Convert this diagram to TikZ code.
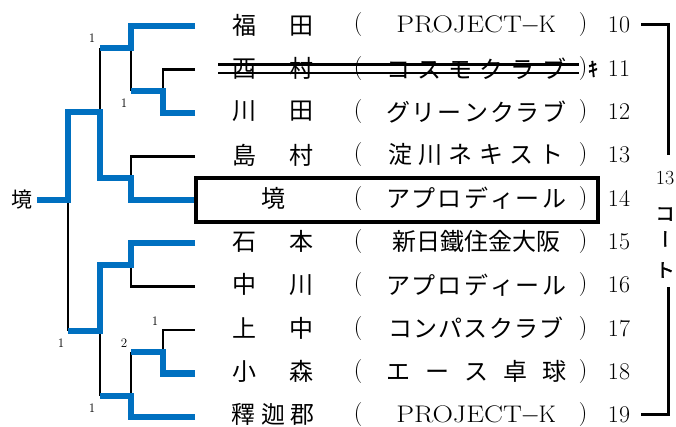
\documentclass[tikz,border=0pt]{standalone}
\usepackage{fontspec}
\usepackage{graphicx}
\newfontfamily\jp{Noto Sans CJK JP}
\newfontfamily\jpb[FakeBold=2]{Noto Sans CJK JP}
\definecolor{winblue}{RGB}{0,112,192}
% spread the characters of #2 over a box #1 wide
\newcommand\spaced[2]{\makebox[#1][s]{\spacedloop#2\relax}}
\def\spacedloop#1#2{#1\ifx\relax#2\else\hfil\expandafter\spacedloop\fi#2}
\newcommand\projk{{\rmfamily\scalebox{1.18}[1]{PROJECT}$\mkern-1mu-\mkern-1mu$K}}
\begin{document}
\begin{tikzpicture}[x=1pt,y=-1pt,
  win/.style={winblue,line width=6.5pt},
  lose/.style={line width=2.5pt},
  row/.style={inner sep=0pt,font=\jp\fontsize{24}{24}\selectfont},
  num/.style={inner sep=0pt,font=\fontsize{24}{24}\selectfont},
  score/.style={inner sep=0pt,font=\fontsize{13}{13}\selectfont},
  court/.style={inner sep=0pt,font=\jpb\fontsize{19}{19}\selectfont}]
\useasboundingbox (0,0) rectangle (676,427);
\foreach \i/\nm/\tm in {
  1/{\spaced{81pt}{福田}}/{\projk},
  2/{\spaced{81pt}{西村}}/{\spaced{180pt}{コスモクラブ}},
  3/{\spaced{81pt}{川田}}/{\spaced{180pt}{グリーンクラブ}},
  4/{\spaced{81pt}{島村}}/{\spaced{176pt}{淀川ネキスト}},
  5/{境}/{\spaced{180pt}{アプロディール}},
  6/{\spaced{81pt}{石本}}/{\spaced{168pt}{新日鐵住金大阪}},
  7/{\spaced{81pt}{中川}}/{\spaced{180pt}{アプロディール}},
  8/{\spaced{81pt}{上中}}/{\spaced{176pt}{コンパスクラブ}},
  9/{\spaced{81pt}{小森}}/{\spaced{180pt}{エース卓球}},
  10/{\spaced{83pt}{釋迦郡}}/{\projk}}{
  \pgfmathsetmacro\y{25+(\i-1)*43.3}
  \pgfmathsetmacro\ly{26+(\i-1)*43.45}
  \coordinate (e\i) at (195,\ly);
  \node[row] (n\i) at (273,\y) {\nm};
  \node[num] (l\i) at (358,\y) {(};
  \node[row] (t\i) at (476,\y) {\tm};
  \node[num] (r\i) at (583,\y) {)};
  \node[num] (k\i) at (619,\y) {\the\numexpr9+\i\relax};
}
% losers
\draw[lose] (e2) -| (163,91);
\draw[lose] (131,48) -- (131,91);
\draw[lose] (e4) -| (131,178);
\draw[lose] (100,48) -- (100,112);
\draw[lose] (68,200) -- (68,331);
\draw[lose] (e7) -| (131,265);
\draw[lose] (100,331) -- (100,396);
\draw[lose] (e8) -| (163,352);
\draw[lose] (131,352) -- (131,396);
% winners
\draw[win] (e1) -| (131,48) -- (100,48);
\draw[win] (e3) -| (163,91) -- (131,91);
\draw[win] (e5) -| (131,178) -- (100,178) -- (100,112) -- (68,112) -- (68,200) -- (37,200);
\draw[win] (e6) -| (131,265) -- (100,265) -- (100,331) -- (68,331);
\draw[win] (e9) -| (163,352) -- (131,352);
\draw[win] (e10) -| (131,396) -- (100,396);
\node[row,font=\jp\fontsize{21}{21}\selectfont] (champ) at (22,200) {境};
% scores
\node[score] (s1) at (92,38) {1};
\node[score] (s2) at (124,103) {1};
\node[score] (s3) at (61,343) {1};
\node[score] (s4) at (155,321) {1};
\node[score] (s5) at (124,343) {2};
\node[score] (s6) at (92,408) {1};
% withdrawal and highlight
\draw[line width=2.5pt] (218,64.5) -- (r2.west |- 0,64.5);
\draw[line width=2.5pt] (218,73) -- (r2.west |- 0,73);
\node[inner sep=0pt,font=\jpb\fontsize{20}{20}\selectfont] (ki) at (593,69) {ｷ};
\draw[line width=4.5pt] (196,178) rectangle (598,222);
% court
\draw[line width=3pt] ([xshift=11pt]k1.east) -| (668,155);
\draw[line width=3pt] ([xshift=11pt]k10.east) -| (668,287);
\node[inner sep=0pt,font=\fontsize{20}{20}\selectfont] (ct) at (665,178) {13};
\node[court] (co1) at (665,214) {コ};
\node[court,rotate=-90] (co2) at (662,239) {ー};
\node[court] (co3) at (665,270) {ト};
\end{tikzpicture}
\end{document}
